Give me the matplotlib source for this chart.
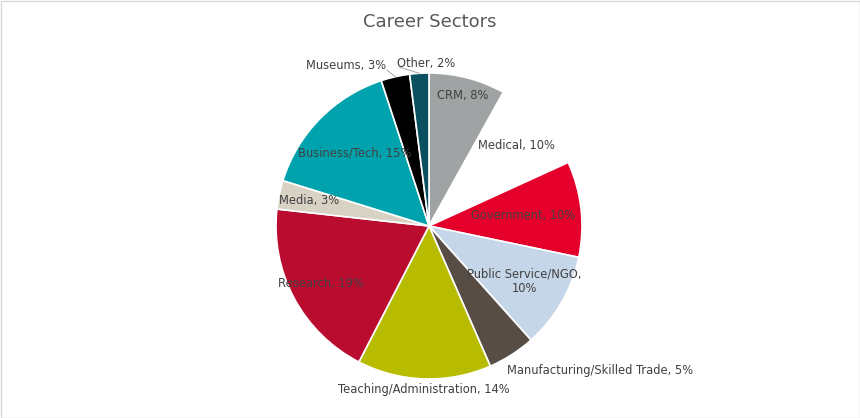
import numpy as np
import matplotlib
matplotlib.use('agg')
import matplotlib.pyplot as plt

sectors = ['CRM', 'Medical', 'Government', 'Public Service/NGO', 'Manufacturing/Skilled Trade',
           'Teaching/Administration', 'Research', 'Media', 'Business/Tech', 'Museums', 'Other']
shares = [8, 10, 10, 10, 5, 14, 19, 3, 15, 3, 2]
labels = ['CRM, 8%', 'Medical, 10%', 'Government, 10%', 'Public Service/NGO,\n10%',
          'Manufacturing/Skilled Trade, 5%', 'Teaching/Administration, 14%', 'Research, 19%',
          'Media, 3%', 'Business/Tech, 15%', 'Museums, 3%', 'Other, 2%']

colors = ['#A0A3A4', '#FFFFFF', '#E4002B', '#C5D6E8', '#574D45', '#B8BC00',
          '#BA0C2F', '#D7D2C4', '#00A3AD', '#000000', '#0B5061']
# label radius (fraction of pie radius) and horizontal alignment
lab_r = [0.88, 0.78, 0.62, 0.72, 1.12, 1.07, 0.8, 0.8, 0.68, None, None]
lab_ha = ['center'] * 4 + ['left', 'center', 'center', 'center', 'center', 'right', 'left']
# outside labels with leader lines placed in pixel coords from top-left
outside = {9: (386, 65), 10: (397, 63)}

W, H = 860, 418
cx, cy, R = 429, H - 226, 153

fig = plt.figure(figsize=(8.6, 4.18), dpi=100)
ax = fig.add_axes([0, 0, 1, 1])

wedges, _ = ax.pie(shares, colors=colors, startangle=90, counterclock=False,
                   center=(cx, cy), radius=R, frame=True,
                   wedgeprops=dict(edgecolor='white', linewidth=1.2))
ax.set_xlim(0, W)
ax.set_ylim(0, H)
ax.set_aspect('equal')
ax.axis('off')

for i, (w, lab, r, ha) in enumerate(zip(wedges, labels, lab_r, lab_ha)):
    ang = np.deg2rad((w.theta1 + w.theta2) / 2)
    if i in outside:
        x, y = outside[i][0], H - outside[i][1]
        ex = cx + R * np.cos(ang)
        ey = cy + R * np.sin(ang)
        sx = x + 1 if ha == 'right' else x + 2
        ax.plot([sx, ex], [y - 5 if ha == 'right' else y - 4, ey], color='#A6A6A6', lw=0.7)
    else:
        x = cx + r * R * np.cos(ang)
        y = cy + r * R * np.sin(ang)
        if lab.startswith('Manufacturing'):
            x -= 15
    ax.text(x, y, lab, ha=ha, va='center', fontsize=8.3, color='#404040',
            multialignment='center')

ax.text(W / 2, H - 22, 'Career Sectors', ha='center', va='center', fontsize=13, color='#595959')
fig.patches.append(plt.Rectangle((0.5, 0.5), W - 1, H - 1, transform=None,
                                 fill=False, edgecolor='#D9D9D9', lw=1))
fig.savefig('out.png', dpi=100, facecolor='white')
